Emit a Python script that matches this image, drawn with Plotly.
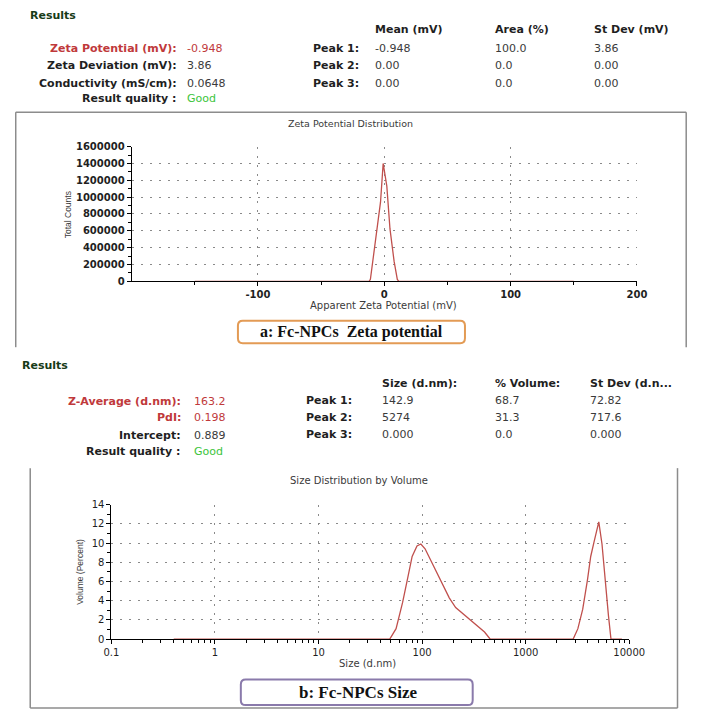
import plotly.graph_objects as go

W, H = 708, 718

# ---------------- data ----------------
zeta_mv = [-150, -12, -11, -8, -5.5, -3, -0.9, 2, 4.5, 7.8, 10.3, 11.5, 150]
zeta_counts = [0, 0, 23000, 350000, 640000, 940000, 1400000, 1130000, 622000, 233000, 23000, 0, 0]
zeta_xticks = [-100, 0, 100, 200]
zeta_yticks = [0, 200000, 400000, 600000, 800000, 1000000, 1200000, 1400000, 1600000]

size_nm = [0.4, 48.6, 56.1, 64.8, 72.1, 80.2, 89.3, 97.3, 106.9, 119, 137, 158, 183, 211, 261, 324,
           401, 456, 2870, 3195, 3555, 3957, 4250, 4571, 5086, 5461, 5868, 6305, 6673, 8500]
size_vol = [0, 0, 1.1, 3.8, 6.2, 8.6, 9.7, 9.9, 9.4, 8.4, 7.0, 5.7, 4.3, 3.3, 2.45, 1.6,
            0.75, 0, 0, 1.1, 3.1, 6.2, 8.6, 10.1, 12.2, 9.9, 5.9, 2.45, 0, 0]
size_xticks = [0.1, 1, 10, 100, 1000, 10000]
size_xticktext = ["0.1", "1", "10", "100", "1000", "10000"]
size_yticks = [0, 2, 4, 6, 8, 10, 12, 14]

zeta_labels = ["Zeta Potential (mV):", "Zeta Deviation (mV):", "Conductivity (mS/cm):", "Result quality :"]
zeta_values = ["-0.948", "3.86", "0.0648", "Good"]
zeta_headers = ["Mean (mV)", "Area (%)", "St Dev (mV)"]
zeta_peaks = [["-0.948", "100.0", "3.86"], ["0.00", "0.0", "0.00"], ["0.00", "0.0", "0.00"]]

size_labels = ["Z-Average (d.nm):", "PdI:", "Intercept:", "Result quality :"]
size_values = ["163.2", "0.198", "0.889", "Good"]
size_headers = ["Size (d.nm):", "% Volume:", "St Dev (d.n..."]
size_peaks = [["142.9", "68.7", "72.82"], ["5274", "31.3", "717.6"], ["0.000", "0.0", "0.000"]]

# ---------------- helpers ----------------
def px(x):
    return x / W

def py(y):
    return 1 - y / H

FONT = "DejaVu Sans, Liberation Sans, Arial, sans-serif"
NARROW = "Liberation Sans Narrow, Arial Narrow, Liberation Sans, sans-serif"
SERIF = "Liberation Serif, Times New Roman, serif"
RED = "#c0393b"
GREEN = "#3cc43c"
DARK = "#1f1f1f"
GRAY_TXT = "#3a3a3a"
LINE = "#c0504d"
GRID = "#8a8a8a"
DASH = "2px,7px"

annotations = []
shapes = []

def text(x, y, s, size=11, color=DARK, anchor="left", family=FONT, angle=0):
    annotations.append(dict(x=px(x), y=py(y), xref="paper", yref="paper", text=s,
                            showarrow=False, xanchor=anchor, yanchor="middle",
                            textangle=angle, borderpad=0,
                            font=dict(family=family, size=size, color=color)))

def line(x0, y0, x1, y1, color="#8c8c8c", width=1.5):
    shapes.append(dict(type="line", xref="paper", yref="paper",
                       x0=px(x0), y0=py(y0), x1=px(x1), y1=py(y1),
                       line=dict(color=color, width=width)))

def rounded_box(x0, y0, x1, y1, r, color, width=2):
    rx, ry = r / W, r / H
    X0, X1 = px(x0), px(x1)
    Y0, Y1 = py(y1), py(y0)  # bottom, top in paper
    path = (f"M {X0+rx},{Y1} L {X1-rx},{Y1} Q {X1},{Y1} {X1},{Y1-ry} "
            f"L {X1},{Y0+ry} Q {X1},{Y0} {X1-rx},{Y0} L {X0+rx},{Y0} "
            f"Q {X0},{Y0} {X0},{Y0+ry} L {X0},{Y1-ry} Q {X0},{Y1} {X0+rx},{Y1} Z")
    shapes.append(dict(type="path", xref="paper", yref="paper", path=path,
                       line=dict(color=color, width=width), fillcolor="white"))

# ---------------- table 1 ----------------
text(22, 10, "<b>Results</b>", size=11, color="#173b17")
for hx, h in zip([379, 503, 606], zeta_headers):
    text(hx, 24, f"<b>{h}</b>", size=11)
rows1 = [43, 61, 79, 94]
for i, (lab, val) in enumerate(zip(zeta_labels, zeta_values)):
    lc = RED if i == 0 else DARK
    vc = RED if i == 0 else (GREEN if i == 3 else GRAY_TXT)
    text(176, rows1[i], f"<b>{lab}</b>", size=11, color=lc, anchor="right")
    text(184, rows1[i], val, size=11, color=vc)
for i in range(3):
    text(315, rows1[i], f"<b>Peak {i+1}:</b>", size=11)
    for cx, v in zip([379, 503, 606], zeta_peaks[i]):
        text(cx, rows1[i], v, size=11, color=GRAY_TXT)

# ---------------- table 2 ----------------
text(13, 366, "<b>Results</b>", size=11, color="#173b17")
for hx, h in zip([386, 503, 601], size_headers):
    text(hx, 384, f"<b>{h}</b>", size=11)
rows2 = [402, 419, 437, 453]
for i, (lab, val) in enumerate(zip(size_labels, size_values)):
    lc = RED if i in (0, 1) else DARK
    vc = RED if i in (0, 1) else (GREEN if i == 3 else GRAY_TXT)
    text(180, rows2[i], f"<b>{lab}</b>", size=11, color=lc, anchor="right")
    text(192, rows2[i], val, size=11, color=vc)
for i in range(3):
    text(307, rows2[i] - 1, f"<b>Peak {i+1}:</b>", size=11)
    for cx, v in zip([386, 503, 601], size_peaks[i]):
        text(cx, rows2[i] - 1, v, size=11, color=GRAY_TXT)

# ---------------- frames ----------------
line(8, 108, 702, 108)
line(8, 108, 8, 347)
line(702, 108, 702, 347)
line(23, 470, 23, 714)
line(693, 470, 693, 714)
line(23, 714, 693, 714)

# ---------------- chart titles / axis titles ----------------
text(355, 119, "Zeta Potential Distribution", size=9.5, color=GRAY_TXT, anchor="center")
text(63, 212, "Total Counts", size=8.5, color=GRAY_TXT, anchor="center", family=NARROW, angle=-90)
text(389, 305, "Apparent Zeta Potential (mV)", size=10, color=GRAY_TXT, anchor="center")

text(363, 483, "Size Distribution by Volume", size=10, color=GRAY_TXT, anchor="center")
text(75, 575, "Volume (Percent)", size=8.5, color=GRAY_TXT, anchor="center", family=NARROW, angle=-90)
text(372, 669, "Size (d.nm)", size=10, color=GRAY_TXT, anchor="center")

# ---------------- label boxes ----------------
rounded_box(238, 320, 473, 343, 5, "#e39b55", 2)
text(356, 332, "<b>a: Fc-NPCs  Zeta potential</b>", size=16, color="#111", anchor="center", family=SERIF)
rounded_box(241, 685, 481, 711, 5, "#8a7aab", 2)
text(362, 698, "<b>b: Fc-NPCs Size</b>", size=17, color="#111", anchor="center", family=SERIF)

# ---------------- figure ----------------
fig = go.Figure()
fig.add_trace(go.Scatter(x=zeta_mv, y=zeta_counts, mode="lines",
                         line=dict(color=LINE, width=1.3), xaxis="x", yaxis="y", hoverinfo="skip"))
fig.add_trace(go.Scatter(x=size_nm, y=size_vol, mode="lines",
                         line=dict(color=LINE, width=1.3), xaxis="x2", yaxis="y2", hoverinfo="skip"))

dom_x1 = [px(128), px(651)]
dom_y1 = [py(280), py(143)]
dom_x2 = [px(107), px(643)]
dom_y2 = [py(644), py(507)]

common = dict(showline=True, linecolor="black", linewidth=1, ticks="outside", ticklen=4,
              tickcolor="black", zeroline=False, showgrid=True, gridcolor=GRID,
              griddash=DASH, gridwidth=1)

minor_log = [m * 10 ** e for e in range(-1, 4) for m in range(2, 10)]

fig.update_layout(
    width=W, height=H, margin=dict(l=0, r=0, t=0, b=0),
    paper_bgcolor="white", plot_bgcolor="rgba(0,0,0,0)", showlegend=False,
    xaxis=dict(domain=dom_x1, range=[-200, 200], anchor="y", tickvals=zeta_xticks,
               ticktext=[str(v) for v in zeta_xticks],
               minor=dict(tickvals=[-150, -50, 50, 150], ticks="outside", ticklen=3, tickcolor="black"),
               tickfont=dict(family=FONT, size=10, color=DARK, weight="bold"), **common),
    yaxis=dict(domain=dom_y1, range=[0, 1600000], anchor="x", tickvals=zeta_yticks,
               ticktext=[str(v) for v in zeta_yticks],
               minor=dict(dtick=100000, ticks="outside", ticklen=3, tickcolor="black"),
               tickfont=dict(family=FONT, size=10, color=DARK, weight="bold"), **common),
    xaxis3=dict(domain=dom_x1, range=[-200, 200], anchor="y", overlaying="x", showline=False,
                ticks="inside", ticklen=4, tickcolor="black", tickvals=zeta_xticks,
                showticklabels=False, showgrid=False, zeroline=False,
                minor=dict(tickvals=[-150, -50, 50, 150], ticks="inside", ticklen=3, tickcolor="black")),
    yaxis3=dict(domain=dom_y1, range=[0, 1600000], anchor="x", overlaying="y", showline=False,
                ticks="inside", ticklen=4, tickcolor="black", tickvals=zeta_yticks,
                showticklabels=False, showgrid=False, zeroline=False,
                minor=dict(dtick=100000, ticks="inside", ticklen=3, tickcolor="black")),
    xaxis2=dict(domain=dom_x2, type="log", range=[-1, 4], anchor="y2", tickvals=size_xticks,
                ticktext=size_xticktext,
                minor=dict(tickvals=minor_log, ticks="outside", ticklen=3, tickcolor="black"),
                tickfont=dict(family=FONT, size=10, color=DARK), **common),
    yaxis2=dict(domain=dom_y2, range=[0, 14], anchor="x2", tickvals=size_yticks,
                ticktext=[str(v) for v in size_yticks],
                minor=dict(dtick=1, ticks="outside", ticklen=3, tickcolor="black"),
                tickfont=dict(family=FONT, size=10, color=DARK), **common),
    xaxis4=dict(domain=dom_x2, type="log", range=[-1, 4], anchor="y2", overlaying="x2", showline=False,
                ticks="inside", ticklen=4, tickcolor="black", tickvals=size_xticks,
                showticklabels=False, showgrid=False, zeroline=False,
                minor=dict(tickvals=minor_log, ticks="inside", ticklen=3, tickcolor="black")),
    yaxis4=dict(domain=dom_y2, range=[0, 14], anchor="x2", overlaying="y2", showline=False,
                ticks="inside", ticklen=4, tickcolor="black", tickvals=size_yticks,
                showticklabels=False, showgrid=False, zeroline=False,
                minor=dict(dtick=1, ticks="inside", ticklen=3, tickcolor="black")),
    annotations=annotations, shapes=shapes,
)

fig.write_html("out.html", config={"displayModeBar": False},
               post_script="document.body.style.margin='0';document.body.style.overflow='hidden';")
